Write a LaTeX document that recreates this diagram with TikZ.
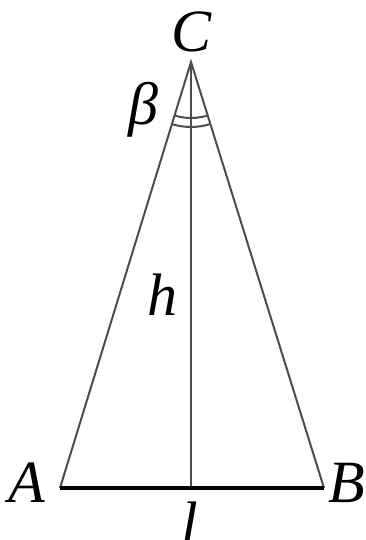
\documentclass[tikz,border=0pt]{standalone}
\usepackage{fontspec}
\setmainfont{Liberation Serif}[ItalicFont={Liberation Serif Italic}]
\usetikzlibrary{calc}

\begin{document}
\begin{tikzpicture}[x=1pt,y=1pt,
    side/.style={black!70,line width=2pt},
    base/.style={black,line width=4.5pt},
    lbl/.style={font=\fontsize{60}{66}\selectfont\itshape,inner sep=0pt}]
    \useasboundingbox (0,0) rectangle (366,540);
    % vertices
    \coordinate (A) at (60,52);
    \coordinate (B) at (324,52);
    \coordinate (C) at (191,478);
    \coordinate (H) at (191,52);
    % sides and height
    \draw[side] (A) -- (C) -- (B);
    \draw[side] (C) -- (H);
    % angle marks
    \draw[side] ($(C)!56pt!(A)$) arc[start angle=252.9,end angle=287.3,radius=56];
    \draw[side] ($(C)!65pt!(A)$) arc[start angle=252.9,end angle=287.3,radius=65];
    % base
    \draw[base] (A) -- (B);
    % labels
    \node[lbl] (lC) at (192,508) {C};
    \node[lbl] (lA) at (27,57) {A};
    \node[lbl] (lB) at (347,57) {B};
    \node[lbl] (ll) at (190,17) {l};
    \node[lbl] (lh) at (162,245) {h};
    \node[lbl] (lbeta) at (143,430) {β};
\end{tikzpicture}
\end{document}
